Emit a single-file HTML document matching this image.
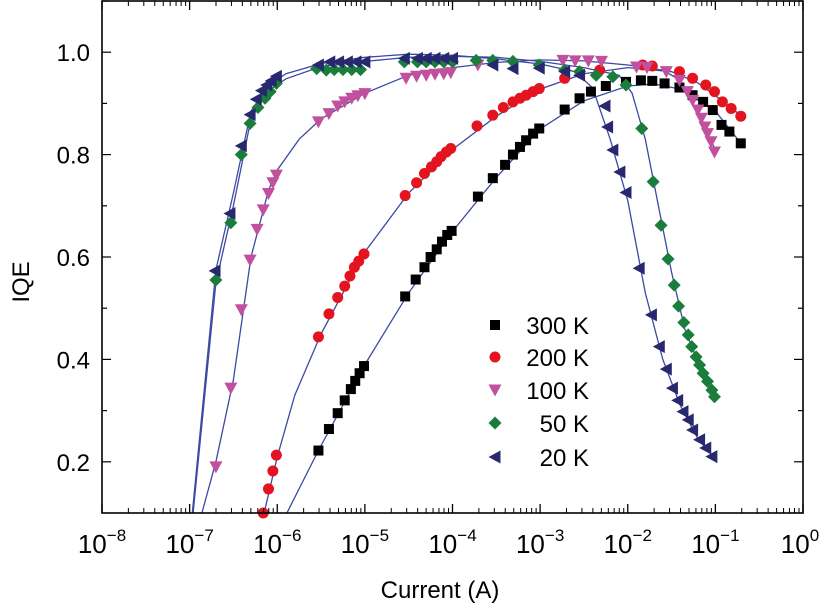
<!DOCTYPE html>
<html><head><meta charset="utf-8"><style>
html,body{margin:0;padding:0;background:#fff;}
svg{display:block;font-family:"Liberation Sans",Arial,sans-serif;}
</style></head><body>
<svg id="chart" width="824" height="608" viewBox="0 0 824 608" xmlns="http://www.w3.org/2000/svg">
<g id="grid"></g><g id="lines"></g><g id="marks"></g><g id="axes"></g><g id="legend"></g>
</svg>
<script>
const xDecades = [-8,-7,-6,-5,-4,-3,-2,-1,0];
const yTickValues = [0.2,0.4,0.6,0.8,1.0];
const yTickLabels = ["0.2","0.4","0.6","0.8","1.0"];
const seriesNames = ["300 K","200 K","100 K","50 K","20 K"];

const data300 = [[-5.53,0.222],[-5.41,0.264],[-5.31,0.295],[-5.23,0.32],[-5.16,0.342],[-5.11,0.358],[-5.06,0.373],[-5.01,0.387],[-4.54,0.523],[-4.42,0.556],[-4.32,0.58],[-4.25,0.6],[-4.18,0.615],[-4.12,0.63],[-4.06,0.643],[-4.01,0.651],[-3.71,0.718],[-3.54,0.754],[-3.4,0.78],[-3.31,0.8],[-3.23,0.815],[-3.16,0.828],[-3.08,0.841],[-3.01,0.851],[-2.72,0.888],[-2.55,0.91],[-2.42,0.923],[-2.25,0.934],[-2.02,0.942],[-1.85,0.945],[-1.72,0.944],[-1.58,0.939],[-1.41,0.931],[-1.26,0.916],[-1.14,0.903],[-1.03,0.887],[-0.93,0.858],[-0.84,0.845],[-0.71,0.822]];
const data200 = [[-6.16,0.1],[-6.1,0.147],[-6.05,0.182],[-6.01,0.213],[-5.53,0.444],[-5.41,0.489],[-5.31,0.521],[-5.23,0.543],[-5.17,0.563],[-5.12,0.58],[-5.07,0.592],[-5.01,0.606],[-4.54,0.72],[-4.41,0.745],[-4.32,0.763],[-4.24,0.776],[-4.18,0.786],[-4.13,0.796],[-4.07,0.805],[-4.02,0.812],[-3.72,0.856],[-3.54,0.877],[-3.42,0.892],[-3.31,0.903],[-3.23,0.91],[-3.16,0.916],[-3.08,0.923],[-3.01,0.929],[-2.72,0.949],[-2.32,0.965],[-1.83,0.975],[-1.72,0.973],[-1.41,0.962],[-1.26,0.949],[-1.11,0.936],[-1.01,0.923],[-0.92,0.903],[-0.82,0.89],[-0.71,0.875]];
const data100 = [[-6.7,0.19],[-6.53,0.344],[-6.41,0.497],[-6.31,0.594],[-6.23,0.654],[-6.16,0.692],[-6.1,0.724],[-6.05,0.745],[-6.01,0.76],[-5.53,0.864],[-5.41,0.88],[-5.31,0.895],[-5.23,0.903],[-5.15,0.91],[-5.08,0.915],[-5.0,0.919],[-4.53,0.949],[-4.41,0.953],[-4.3,0.955],[-4.2,0.957],[-4.1,0.958],[-4.02,0.96],[-3.71,0.975],[-2.74,0.984],[-2.6,0.983],[-2.45,0.983],[-2.3,0.982],[-1.9,0.971],[-1.78,0.97],[-1.56,0.962],[-1.41,0.945],[-1.32,0.923],[-1.26,0.906],[-1.2,0.887],[-1.16,0.871],[-1.12,0.854],[-1.09,0.841],[-1.05,0.825],[-1.01,0.805]];
const data50 = [[-6.7,0.555],[-6.53,0.667],[-6.41,0.8],[-6.31,0.861],[-6.22,0.892],[-6.14,0.91],[-6.08,0.923],[-6.01,0.939],[-5.55,0.968],[-5.44,0.965],[-5.35,0.966],[-5.25,0.966],[-5.15,0.966],[-5.05,0.966],[-4.55,0.981],[-4.4,0.981],[-4.3,0.981],[-4.2,0.981],[-4.1,0.981],[-4.0,0.981],[-3.73,0.984],[-3.54,0.984],[-3.31,0.982],[-3.01,0.975],[-2.72,0.965],[-2.55,0.962],[-2.36,0.955],[-2.17,0.952],[-2.02,0.936],[-1.84,0.851],[-1.71,0.747],[-1.62,0.662],[-1.54,0.596],[-1.47,0.545],[-1.42,0.504],[-1.36,0.472],[-1.31,0.448],[-1.27,0.425],[-1.22,0.405],[-1.18,0.389],[-1.14,0.373],[-1.09,0.357],[-1.04,0.34],[-1.01,0.327]];
const data20 = [[-6.71,0.573],[-6.54,0.685],[-6.41,0.817],[-6.31,0.878],[-6.24,0.908],[-6.18,0.925],[-6.12,0.936],[-6.07,0.944],[-6.01,0.953],[-5.53,0.975],[-5.4,0.981],[-5.3,0.981],[-5.2,0.981],[-5.1,0.981],[-5.0,0.981],[-4.55,0.988],[-4.4,0.988],[-4.3,0.988],[-4.2,0.988],[-4.1,0.988],[-4.0,0.988],[-3.54,0.975],[-3.31,0.968],[-3.01,0.969],[-2.72,0.962],[-2.55,0.955],[-2.26,0.895],[-2.23,0.854],[-2.17,0.809],[-2.09,0.766],[-2.02,0.726],[-1.87,0.578],[-1.73,0.487],[-1.64,0.425],[-1.56,0.381],[-1.49,0.344],[-1.43,0.32],[-1.37,0.298],[-1.31,0.282],[-1.26,0.262],[-1.18,0.243],[-1.11,0.227],[-1.04,0.21]];

const fit300 = [[-5.89,0.1],[-5.53,0.222],[-5.0,0.39],[-4.5,0.53],[-4.0,0.65],[-3.5,0.755],[-3.0,0.85],[-2.5,0.905],[-2.0,0.934],[-1.7,0.938],[-1.4,0.928],[-1.0,0.885],[-0.7,0.82]];
const fit200 = [[-6.15,0.1],[-6.0,0.21],[-5.8,0.33],[-5.5,0.45],[-5.0,0.61],[-4.5,0.725],[-4.0,0.81],[-3.5,0.875],[-3.0,0.928],[-2.5,0.958],[-2.0,0.97],[-1.5,0.962],[-1.2,0.94],[-1.0,0.915],[-0.7,0.875]];
const fit100 = [[-6.86,0.1],[-6.7,0.2],[-6.5,0.36],[-6.3,0.6],[-6.1,0.73],[-6.0,0.77],[-5.75,0.83],[-5.5,0.87],[-5.0,0.92],[-4.5,0.955],[-4.0,0.97],[-3.5,0.98],[-3.0,0.985],[-2.5,0.983],[-2.0,0.975],[-1.6,0.965],[-1.45,0.95],[-1.3,0.915],[-1.15,0.86],[-1.0,0.81]];
const fit50 = [[-6.96,0.1],[-6.7,0.55],[-6.5,0.7],[-6.3,0.87],[-6.1,0.925],[-5.9,0.948],[-5.5,0.972],[-5.0,0.982],[-4.5,0.99],[-4.0,0.992],[-3.5,0.99],[-3.0,0.982],[-2.5,0.97],[-2.1,0.955],[-1.95,0.92],[-1.8,0.83],[-1.65,0.7],[-1.5,0.57],[-1.35,0.46],[-1.2,0.395],[-1.0,0.33]];
const fit20 = [[-6.97,0.1],[-6.7,0.575],[-6.5,0.725],[-6.3,0.885],[-6.1,0.935],[-5.9,0.958],[-5.5,0.978],[-5.0,0.99],[-4.5,0.996],[-4.0,0.994],[-3.5,0.987],[-3.0,0.977],[-2.6,0.962],[-2.4,0.93],[-2.2,0.83],[-2.0,0.71],[-1.8,0.53],[-1.6,0.4],[-1.4,0.31],[-1.2,0.245],[-1.0,0.205]];

const L=102,R=803,T=1,B=513;
const X0=-8,X1=0,Y0=0.1,Y1=1.1;
function sx(v){return L+(v-X0)/(X1-X0)*(R-L);}
function sy(v){return B-(v-Y0)/(Y1-Y0)*(B-T);}
const NS="http://www.w3.org/2000/svg";
function mk(tag,attrs,parent){const e=document.createElementNS(NS,tag);for(const k in attrs)e.setAttribute(k,attrs[k]);parent.appendChild(e);return e;}

const gl=document.getElementById('lines'),gm=document.getElementById('marks'),ga=document.getElementById('axes'),gg=document.getElementById('legend');
mk('clipPath',{id:'clip'},document.getElementById('chart'));
mk('rect',{x:L,y:T,width:R-L,height:B-T},document.getElementById('clip'));
gl.setAttribute('clip-path','url(#clip)');

const colors=["#000000","#e3141f","#c1509e","#1a7d3b","#28286f"];
const shapes=["square","circle","tri-down","diamond","tri-left"];
const seriesData=[data300,data200,data100,data50,data20];
const seriesFit=[fit300,fit200,fit100,fit50,fit20];
const keys=["300k","200k","100k","50k","20k"];

function marker(shape,x,y,c,parent){
  let e;
  if(shape==="square") e=mk('rect',{x:x-5,y:y-5,width:10,height:10,fill:c},parent);
  else if(shape==="circle") e=mk('circle',{cx:x,cy:y,r:5.5,fill:c},parent);
  else if(shape==="tri-down") e=mk('polygon',{points:`${x-6.5},${y-5.5} ${x+6.5},${y-5.5} ${x},${y+6.5}`,fill:c},parent);
  else if(shape==="diamond") e=mk('polygon',{points:`${x},${y-6.5} ${x+6.5},${y} ${x},${y+6.5} ${x-6.5},${y}`,fill:c},parent);
  else e=mk('polygon',{points:`${x-6.5},${y} ${x+5.5},${y-6.5} ${x+5.5},${y+6.5}`,fill:c},parent);
  return e;
}

for(let s=0;s<5;s++){
  const p=mk('polyline',{points:seriesFit[s].map(d=>sx(d[0]).toFixed(1)+','+sy(d[1]).toFixed(1)).join(' '),fill:'none',stroke:'#3c4aa3','stroke-width':1.3},gl);
  
  
}
for(let s=0;s<5;s++){
  const g=mk('g',{},gm);
  
  
  seriesData[s].forEach(d=>{
    const m=marker(shapes[s],sx(d[0]),sy(d[1]),colors[s],g);
    
    
  });
}

const fr=mk('rect',{x:L,y:T,width:R-L,height:B-T,fill:'none',stroke:'#000','stroke-width':1.6},ga);


xDecades.forEach((d,i)=>{
  const x=sx(d);
  mk('line',{x1:x,y1:B,x2:x,y2:B-9,stroke:'#000','stroke-width':1.3},ga);
  mk('line',{x1:x,y1:T,x2:x,y2:T+9,stroke:'#000','stroke-width':1.3},ga);
  if(i<xDecades.length-1){
    for(let m=2;m<=9;m++){
      const xm=sx(d+Math.log10(m));
      mk('line',{x1:xm,y1:B,x2:xm,y2:B-5,stroke:'#000','stroke-width':1},ga);
      mk('line',{x1:xm,y1:T,x2:xm,y2:T+5,stroke:'#000','stroke-width':1},ga);
    }
  }
  const t=mk('text',{x:x+(d===0?-3:0),y:553,'font-size':26,'text-anchor':'middle',fill:'#000'},ga);
  
  
  const a=mk('tspan',{},t);a.textContent='10';
  const b=mk('tspan',{dy:-12,'font-size':17},t);
  b.textContent=d!==0?'\u2212'+Math.abs(d):'0';
});
for(let v=0.2;v<1.11;v+=0.1){
  const y=sy(v);const major=Math.abs(Math.round(v*10)%2)===0;
  const len=major?9:5;
  mk('line',{x1:L,y1:y,x2:L+len,y2:y,stroke:'#000','stroke-width':1.2},ga);
  mk('line',{x1:R,y1:y,x2:R-len,y2:y,stroke:'#000','stroke-width':1.2},ga);
}
yTickValues.forEach((v,i)=>{
  const t=mk('text',{x:90,y:sy(v)+9,'font-size':24,'text-anchor':'end',fill:'#000'},ga);
  
  
  t.textContent=yTickLabels[i];
});
const xt=mk('text',{x:440,y:598,'font-size':24,'text-anchor':'middle',fill:'#000'},ga);


xt.textContent='Current (A)';
const yt=mk('text',{x:0,y:0,'font-size':24,'text-anchor':'middle',fill:'#000',transform:'translate(29,282) rotate(-90)'},ga);


yt.textContent='IQE';
const legY=[325,357,390,423,457];
for(let s=0;s<5;s++){
  const g=mk('g',{},gg);
  
  
  marker(shapes[s],495,legY[s],colors[s],g);
  const t=mk('text',{x:589,y:legY[s]+9,'font-size':24,'text-anchor':'end',fill:'#000'},g);
  t.textContent=seriesNames[s];
}
</script>
</body></html>
